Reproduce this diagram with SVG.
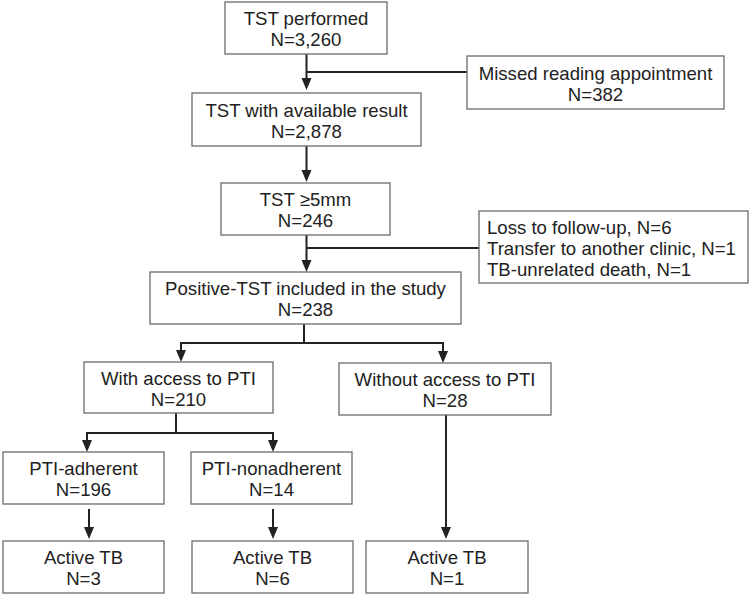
<svg xmlns="http://www.w3.org/2000/svg" width="750" height="597" viewBox="0 0 750 597">
<style>
.box{fill:#fff;stroke:#6b6b6b;stroke-width:1.3}
text{font-family:"Liberation Sans",Arial,sans-serif;font-size:18.6px;fill:#222;text-anchor:middle}
.l{text-anchor:start}
.c{fill:none;stroke:#222;stroke-width:2}
.h{fill:#222}
</style>
<rect width="750" height="597" fill="#fff"/>
<g id="connectors">
<path class="c" d="M306.5,54 V79"/>
<path class="h" d="M301.5,78 L311.5,78 L306.5,90 Z"/>
<path class="c" d="M306.5,72 H467"/>
<path class="c" d="M306.5,146 V171"/>
<path class="h" d="M301.5,170 L311.5,170 L306.5,182 Z"/>
<path class="c" d="M306.5,235 V261"/>
<path class="h" d="M301.5,260 L311.5,260 L306.5,272 Z"/>
<path class="c" d="M306.5,248 H479"/>
<path class="c" d="M304,324 V343 M181,343 H443 M181,342 V351 M443,342 V352"/>
<path class="h" d="M176,350 L186,350 L181,362 Z"/>
<path class="h" d="M438,351 L448,351 L443,363 Z"/>
<path class="c" d="M176,413 V433 M87,433 H273 M87,432 V441 M273,432 V441"/>
<path class="h" d="M82,440 L92,440 L87,452 Z"/>
<path class="h" d="M268,440 L278,440 L273,452 Z"/>
<path class="c" d="M89,509 V529"/>
<path class="h" d="M84,527 L94,527 L89,539 Z"/>
<path class="c" d="M273,509 V529"/>
<path class="h" d="M268,527 L278,527 L273,539 Z"/>
<path class="c" d="M446,415 V529"/>
<path class="h" d="M441,527 L451,527 L446,539 Z"/>
</g>
<g id="n1"><rect class="box" x="225" y="2" width="162" height="52"/><text x="306" y="25">TST performed</text><text x="306" y="46">N=3,260</text></g>
<g id="n2"><rect class="box" x="467" y="56" width="257" height="53"/><text x="595.5" y="80">Missed reading appointment</text><text x="595.5" y="101">N=382</text></g>
<g id="n3"><rect class="box" x="192" y="93" width="229" height="53"/><text x="306.5" y="117">TST with available result</text><text x="306.5" y="138">N=2,878</text></g>
<g id="n4"><rect class="box" x="221" y="183" width="169" height="52"/><text x="305.5" y="206">TST ≥5mm</text><text x="305.5" y="227">N=246</text></g>
<g id="n5"><rect class="box" x="479" y="211" width="269" height="72"/><text class="l" x="487" y="234">Loss to follow-up, N=6</text><text class="l" x="487" y="255">Transfer to another clinic, N=1</text><text class="l" x="487" y="276">TB-unrelated death, N=1</text></g>
<g id="n6"><rect class="box" x="150" y="272" width="311" height="52"/><text x="305.5" y="295">Positive-TST included in the study</text><text x="305.5" y="316">N=238</text></g>
<g id="n7"><rect class="box" x="84" y="362" width="189" height="51"/><text x="178.5" y="385">With access to PTI</text><text x="178.5" y="406">N=210</text></g>
<g id="n8"><rect class="box" x="339" y="363" width="212" height="52"/><text x="445" y="386">Without access to PTI</text><text x="445" y="407">N=28</text></g>
<g id="n9"><rect class="box" x="3" y="452" width="161" height="52"/><text x="83.5" y="475">PTI-adherent</text><text x="83.5" y="496">N=196</text></g>
<g id="n10"><rect class="box" x="191" y="452" width="161" height="52"/><text x="271.5" y="475">PTI-nonadherent</text><text x="271.5" y="496">N=14</text></g>
<g id="n11"><rect class="box" x="3" y="541" width="161" height="52"/><text x="83.5" y="564">Active TB</text><text x="83.5" y="585">N=3</text></g>
<g id="n12"><rect class="box" x="192" y="541" width="161" height="52"/><text x="272.5" y="564">Active TB</text><text x="272.5" y="585">N=6</text></g>
<g id="n13"><rect class="box" x="366" y="541" width="162" height="52"/><text x="447" y="564">Active TB</text><text x="447" y="585">N=1</text></g>
</svg>
